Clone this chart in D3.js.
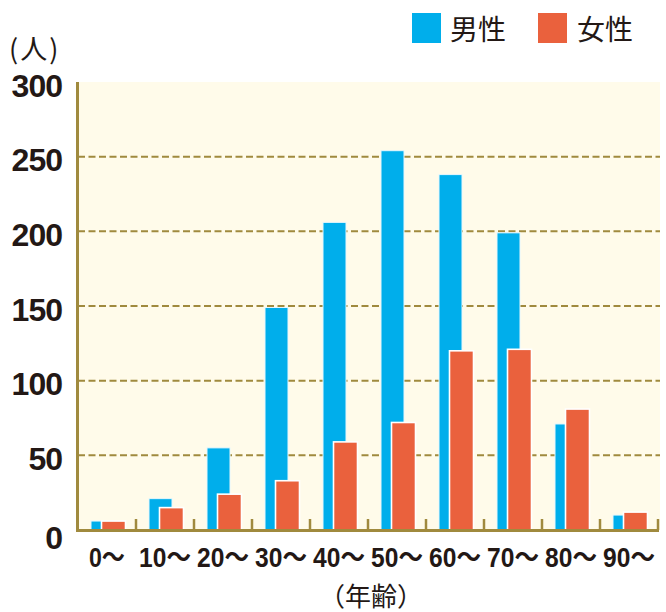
<!DOCTYPE html>
<html>
<head>
<meta charset="utf-8">
<script src="https://cdn.jsdelivr.net/npm/d3@7"></script>
<style>
  html, body { margin: 0; padding: 0; background: #ffffff; }
  svg { display: block; }
</style>
</head>
<body>
<svg id="chart" width="666" height="612"></svg>
<script>
const categories = ["0～", "10～", "20～", "30～", "40～", "50～", "60～", "70～", "80～", "90～"];
const male = [6, 21, 55, 149, 206, 254, 238, 199, 71, 10];
const female = [6, 15, 24, 33, 59, 72, 120, 121, 81, 12];
const yTicks = [0, 50, 100, 150, 200, 250, 300];
const seriesNames = ["男性", "女性"];
const yUnit = "(人)";
const xTitle = "（年齢）";

const colors = { male: "#00aeeb", female: "#ea613d", axis: "#a08a3e", grid: "#a08a3e", bg: "#fffbea", text: "#231815" };
const numFont = "'Liberation Sans', Arial, sans-serif";
const cjkFont = "'Noto Sans CJK JP', 'Noto Sans CJK SC', sans-serif";

const svg = d3.select("#chart");
const pL = 78, pR = 658, pT = 82, pB = 530;

const x = d3.scaleBand().domain(categories).range([pL, pR]).paddingInner(0).paddingOuter(0);
const y = d3.scaleLinear().domain([0, 300]).range([pB, pT]);
const bw = x.bandwidth();

// plot background
svg.append("rect").attr("x", pL).attr("y", pT).attr("width", 660 - pL).attr("height", pB - pT).attr("fill", colors.bg);

// gridlines (none at the top edge)
svg.append("g").selectAll("line").data(yTicks.filter(d => d > 0 && d < 300)).join("line")
  .attr("x1", pL).attr("x2", 660)
  .attr("y1", d => y(d)).attr("y2", d => y(d))
  .attr("stroke", colors.grid).attr("stroke-width", 2).attr("stroke-dasharray", "7,3.5");

// bars
const maleOff = 13 / 58, maleW = 23 / 58, femOff = 23.5 / 58, femW = 24 / 58;
svg.append("g").selectAll("rect").data(male).join("rect")
  .attr("x", (d, i) => x(categories[i]) + bw * maleOff)
  .attr("width", bw * maleW)
  .attr("y", d => y(d))
  .attr("height", d => y(0) - y(d))
  .attr("fill", colors.male)
  .attr("stroke", "#e6f7fd").attr("stroke-width", 1);

svg.append("g").selectAll("rect").data(female).join("rect")
  .attr("x", (d, i) => x(categories[i]) + bw * femOff)
  .attr("width", bw * femW)
  .attr("y", d => y(d))
  .attr("height", d => y(0) - y(d))
  .attr("fill", colors.female)
  .attr("stroke", "#ffffff").attr("stroke-width", 1.6);

// axes lines
svg.append("line").attr("x1", pL - 0.5).attr("x2", pL - 0.5).attr("y1", pT).attr("y2", pB + 1.5)
  .attr("stroke", colors.axis).attr("stroke-width", 3);
svg.append("line").attr("x1", pL - 2).attr("x2", pR + 1).attr("y1", pB + 0.5).attr("y2", pB + 0.5)
  .attr("stroke", colors.axis).attr("stroke-width", 3);
// boundary ticks
svg.append("g").selectAll("line").data(categories).join("line")
  .attr("x1", d => x(d) + bw).attr("x2", d => x(d) + bw)
  .attr("y1", pB - 11).attr("y2", pB)
  .attr("stroke", colors.axis).attr("stroke-width", 2.5);

// y axis labels
const yAxis = d3.axisLeft(y).tickValues(yTicks).tickSize(0).tickPadding(0);
const gy = svg.append("g").attr("transform", `translate(62,0)`).call(yAxis);
gy.select(".domain").remove();
gy.selectAll("text")
  .attr("x", 0)
  .attr("dy", null)
  .attr("y", d => d === 0 ? 18 : 14)
  .attr("fill", colors.text)
  .style("font-family", numFont).style("font-weight", "bold").style("font-size", "32px")
  .style("letter-spacing", "-1px")
  .attr("text-anchor", "end");

// x axis labels
const xAxis = d3.axisBottom(x).tickSize(0).tickPadding(0);
const gx = svg.append("g").attr("transform", `translate(0,${pB})`).call(xAxis);
gx.select(".domain").remove();
gx.selectAll("text")
  .attr("y", 37).attr("dy", null)
  .attr("fill", colors.text)
  .style("font-family", numFont + ", " + cjkFont).style("font-weight", "bold").style("font-size", "27px")
  .attr("text-anchor", "middle")
  .attr("textLength", d => d.length > 2 ? 52 : 36)
  .attr("lengthAdjust", "spacingAndGlyphs");

// unit label
svg.append("text").attr("x", 9).attr("y", 59)
  .attr("fill", colors.text).style("font-family", cjkFont).style("font-size", "27px")
  .style("letter-spacing", "2px").text(yUnit);

// x title
svg.append("text").attr("x", 371).attr("y", 606).attr("text-anchor", "middle")
  .attr("fill", colors.text).style("font-family", cjkFont).style("font-size", "26px").text(xTitle);

// legend
const legend = [
  { name: seriesNames[0], color: colors.male, sx: 412, tx: 450 },
  { name: seriesNames[1], color: colors.female, sx: 538, tx: 577 }
];
const lg = svg.append("g");
lg.selectAll("rect").data(legend).join("rect")
  .attr("x", d => d.sx).attr("y", 13).attr("width", 29).attr("height", 30).attr("fill", d => d.color);
lg.selectAll("text").data(legend).join("text")
  .attr("x", d => d.tx).attr("y", 40)
  .attr("fill", colors.text).style("font-family", cjkFont).style("font-size", "28px")
  .text(d => d.name);
</script>
</body>
</html>
